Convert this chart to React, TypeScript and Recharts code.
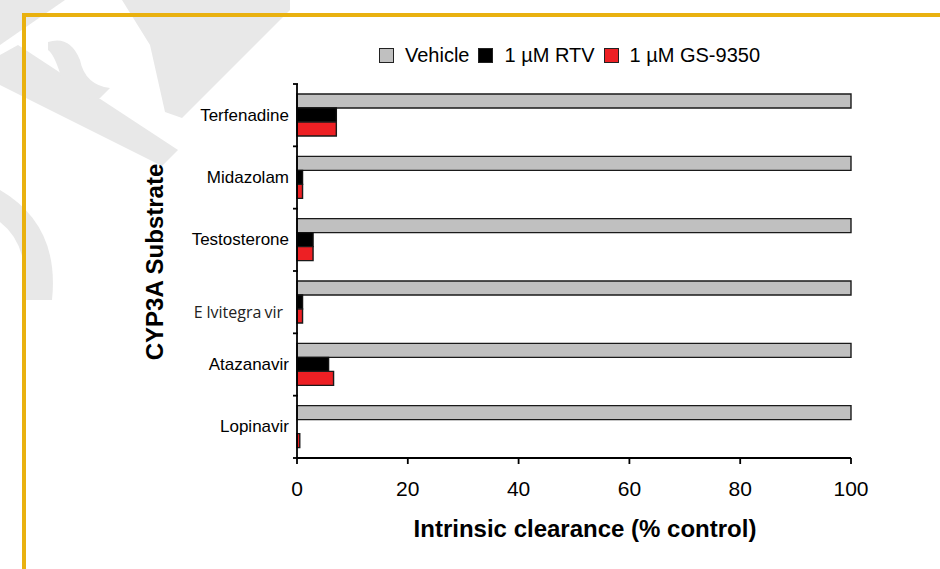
import { BarChart, Bar, XAxis, YAxis, Legend, Label } from "recharts";

// CYP3A substrates, top to bottom
const substrates = ["Terfenadine", "Midazolam", "Testosterone", "Elvitegravir", "Atazanavir", "Lopinavir"];
// intrinsic clearance, % of vehicle control
const vehicle = [100, 100, 100, 100, 100, 100];
const rtv = [7.1, 1.0, 2.9, 1.0, 5.7, 0];
const gs9350 = [7.1, 1.0, 2.9, 1.0, 6.6, 0.5];

const seriesNames = ["Vehicle", "1 µM RTV", "1 µM GS-9350"];
const seriesColors = ["#c0c0c0", "#000000", "#ed2024"];
const xTicks = [0, 20, 40, 60, 80, 100];

const data = substrates.map((name, i) => ({
  name,
  vehicle: vehicle[i],
  rtv: rtv[i],
  gs9350: gs9350[i],
}));

const FONT = "'Liberation Sans', Arial, sans-serif";

const W = 940;
const H = 569;
const M = { top: 84, right: 89, bottom: 0, left: 96 };
const X_AXIS_H = 111;
const Y_TICK_SIZE = 6;
const Y_TICK_MARGIN = 2;
// half of one category band, for the boundary tick marks
const HALF_BAND = (H - M.top - M.bottom - X_AXIS_H) / substrates.length / 2;

function SubstrateTick({ x, y, payload, index }: any) {
  const axisX = x + Y_TICK_SIZE + Y_TICK_MARGIN + 1;
  const marks = (
    <>
      <line x1={axisX - 5} x2={axisX} y1={y - HALF_BAND} y2={y - HALF_BAND} stroke="#000" strokeWidth={1.8} />
      {index === substrates.length - 1 && (
        <line x1={axisX - 5} x2={axisX} y1={y + HALF_BAND} y2={y + HALF_BAND} stroke="#000" strokeWidth={1.8} />
      )}
    </>
  );
  if (payload.value === "Elvitegravir") {
    // odd spacing/typeface in the original figure
    return (
      <g>
        {marks}
        <text x={x - 6} y={y + 10} textAnchor="end" dominantBaseline="central" fontFamily="'Open Sans', sans-serif" fontSize={16} fill="#222">
          <tspan>E</tspan>
          <tspan dx={4}>lvitegra</tspan>
          <tspan dx={3}>vir</tspan>
        </text>
      </g>
    );
  }
  return (
    <g>
      {marks}
      <text x={x} y={y} textAnchor="end" dominantBaseline="central" fontFamily={FONT} fontSize={17} fill="#000">
        {payload.value}
      </text>
    </g>
  );
}

function LegendBox({ payload }: any) {
  const items = [...(payload || [])].sort(
    (a: any, b: any) => seriesNames.indexOf(a.value) - seriesNames.indexOf(b.value)
  );
  return (
    <div style={{ display: "flex", justifyContent: "center", alignItems: "center", fontFamily: FONT, fontSize: 20, color: "#000" }}>
      {items.map((p: any, i: number) => (
        <div key={i} style={{ display: "flex", alignItems: "center", marginRight: 9 }}>
          <span style={{ width: 13, height: 13, background: p.color, border: "1px solid #222", marginRight: 11 }} />
          <span>{p.value}</span>
        </div>
      ))}
    </div>
  );
}

function Watermark() {
  const g = "#e8e8e8";
  return (
    <svg width={W} height={H} style={{ position: "absolute", left: 0, top: 0 }}>
      <polygon points="0,0 65,0 0,45" fill={g} />
      <polygon points="0,55 18,45 178,150 162,166 0,85" fill={g} />
      <polygon points="122,0 290,0 290,10 182,118 165,112 150,45" fill={g} />
      <path d="M48,42 Q70,35 80,60 Q85,85 110,88 L100,98 Q70,100 62,80 Q55,55 48,50 Z" fill={g} />
      <path d="M0,190 Q60,225 52,300 L25,300 Q30,245 0,222 Z" fill={g} />
      <rect x={22} y={13} width={918} height={4} fill="#e9b10f" />
      <rect x={22} y={13} width={4} height={556} fill="#e9b10f" />
    </svg>
  );
}

export default function App() {
  return (
    <div style={{ position: "absolute", left: 0, top: 0, width: W, height: H, background: "#fff" }}>
      <Watermark />
      <div style={{ position: "absolute", left: 0, top: 0 }}>
        <BarChart
          width={W}
          height={H}
          data={data}
          layout="vertical"
          margin={M}
          barCategoryGap={10}
          barGap={0}
        >
          <XAxis
            type="number"
            domain={[0, 100]}
            ticks={xTicks}
            height={X_AXIS_H}
            tickSize={6}
            tickMargin={17}
            stroke="#000"
            strokeWidth={1.8}
            tick={{ fill: "#000", fontFamily: FONT, fontSize: 21 }}
          >
            <Label
              content={() => (
                <text x={585} y={537} textAnchor="middle" fontFamily={FONT} fontWeight="bold" fontSize={24} fill="#000">
                  Intrinsic clearance (% control)
                </text>
              )}
            />
          </XAxis>
          <YAxis
            type="category"
            dataKey="name"
            width={201}
            stroke="#000"
            strokeWidth={1.8}
            tickLine={false}
            tickSize={Y_TICK_SIZE}
            tickMargin={Y_TICK_MARGIN}
            tick={<SubstrateTick />}
          >
            <Label
              content={() => (
                <text x={163} y={262} transform="rotate(-90 163 262)" textAnchor="middle" fontFamily={FONT} fontWeight="bold" fontSize={24} fill="#000">
                  CYP3A Substrate
                </text>
              )}
            />
          </YAxis>
          <Legend
            layout="horizontal"
            verticalAlign="middle"
            align="center"
            wrapperStyle={{ top: 44, left: 297, width: 554 }}
            content={<LegendBox />}
          />
          <Bar dataKey="vehicle" name={seriesNames[0]} fill={seriesColors[0]} stroke="#1a1a1a" strokeWidth={1.4} isAnimationActive={false} />
          <Bar dataKey="rtv" name={seriesNames[1]} fill={seriesColors[1]} stroke="#111" strokeWidth={1.4} isAnimationActive={false} />
          <Bar dataKey="gs9350" name={seriesNames[2]} fill={seriesColors[2]} stroke="#1a1a1a" strokeWidth={1.4} isAnimationActive={false} />
        </BarChart>
      </div>
    </div>
  );
}
